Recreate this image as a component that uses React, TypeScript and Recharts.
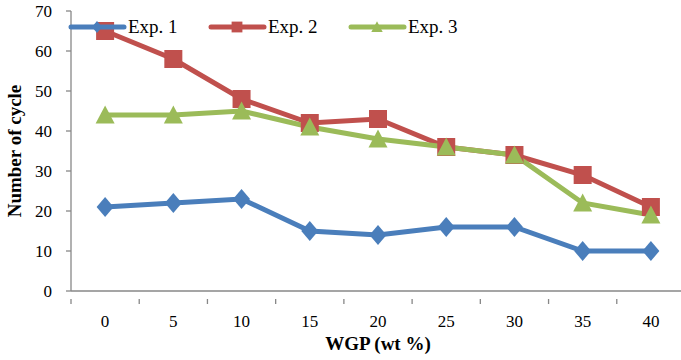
import React from 'react';
import { LineChart, Line, XAxis, YAxis } from 'recharts';

const categories = ['0', '5', '10', '15', '20', '25', '30', '35', '40'];
const exp1 = [21, 22, 23, 15, 14, 16, 16, 10, 10];
const exp2 = [65, 58, 48, 42, 43, 36, 34, 29, 21];
const exp3 = [44, 44, 45, 41, 38, 36, 34, 22, 19];
const yTicks = [0, 10, 20, 30, 40, 50, 60, 70];

const data = categories.map((c, i) => ({ wgp: c, exp1: exp1[i], exp2: exp2[i], exp3: exp3[i] }));

const BLUE = '#4a7ebb';
const RED = '#c0504d';
const GREEN = '#9bbb59';
const AXIS = '#878787';
const FONT = '"Liberation Serif", "Times New Roman", serif';

const CHART_W = 690;
const CHART_H = 360;
const MARGIN = { top: 11, right: 5, bottom: 0, left: 0 };
const YAXIS_W = 71;
const XAXIS_H = 69;
const BAND = (CHART_W - MARGIN.left - MARGIN.right - YAXIS_W) / categories.length;

const Diamond = (props: any) => {
  const { cx, cy, fill, s = 1 } = props;
  if (cx == null || cy == null) return null;
  const w = 8.5 * s, h = 10 * s;
  return <polygon points={`${cx},${cy - h} ${cx + w},${cy} ${cx},${cy + h} ${cx - w},${cy}`} fill={fill} />;
};
const Square = (props: any) => {
  const { cx, cy, fill, s = 1 } = props;
  if (cx == null || cy == null) return null;
  const h = 9 * s;
  return <rect x={cx - h} y={cy - h} width={2 * h} height={2 * h} fill={fill} />;
};
const Triangle = (props: any) => {
  const { cx, cy, fill, s = 1 } = props;
  if (cx == null || cy == null) return null;
  const w = 9.5 * s;
  return <polygon points={`${cx},${cy - 9.5 * s} ${cx + w},${cy + 8.5 * s} ${cx - w},${cy + 8.5 * s}`} fill={fill} />;
};

const series = [
  { key: 'exp1', name: 'Exp. 1', color: BLUE, Marker: Diamond },
  { key: 'exp2', name: 'Exp. 2', color: RED, Marker: Square },
  { key: 'exp3', name: 'Exp. 3', color: GREEN, Marker: Triangle },
];

const XTick = (props: any) => {
  const { x, y, payload, index } = props;
  const last = index === categories.length - 1;
  return (
    <g>
      <line x1={x - BAND / 2} y1={y} x2={x - BAND / 2} y2={y + 5} stroke={AXIS} strokeWidth={1.3} />
      {last && <line x1={x + BAND / 2} y1={y} x2={x + BAND / 2} y2={y + 5} stroke={AXIS} strokeWidth={1.3} />}
      <text x={x} y={y + 28} textAnchor="middle" fontFamily={FONT} fontSize={17} fill="#000">
        {payload.value}
      </text>
    </g>
  );
};

const LegendBox = () => (
  <div style={{ position: 'absolute', left: 68, top: 17, width: 500, height: 24 }}>
    {series.map((s, i) => (
      <div key={s.key} style={{ position: 'absolute', left: i * 140, top: 0, display: 'flex', alignItems: 'center' }}>
        <svg width={60} height={20}>
          <line x1={3} y1={10} x2={56} y2={10} stroke={s.color} strokeWidth={5} strokeLinecap="round" />
          <s.Marker cx={29} cy={10} fill={s.color} s={0.6} />
        </svg>
        <span style={{ fontFamily: FONT, fontSize: 19, color: '#000', lineHeight: '20px' }}>{s.name}</span>
      </div>
    ))}
  </div>
);

export default function App() {
  return (
    <div style={{ position: 'absolute', left: 0, top: 0, width: 681, height: 360, overflow: 'hidden', background: '#fff' }}>
      <LineChart width={CHART_W} height={CHART_H} data={data} margin={MARGIN}>
        <XAxis
          dataKey="wgp"
          height={XAXIS_H}
          stroke={AXIS}
          strokeWidth={1.3}
          tickLine={false}
          tick={<XTick />}
          interval={0}
          padding={{ left: BAND / 2, right: BAND / 2 }}
          label={(p: any) => {
            const vb = p.viewBox;
            return (
              <text x={vb.x + vb.width / 2} y={vb.y + 59} textAnchor="middle" fontFamily={FONT} fontSize={19} fontWeight="bold" fill="#000">
                WGP (wt %)
              </text>
            );
          }}
        />
        <YAxis
          width={YAXIS_W}
          domain={[0, 70]}
          ticks={yTicks}
          interval={0}
          stroke={AXIS}
          strokeWidth={1.3}
          tickSize={5}
          tickMargin={14}
          tick={{ fontFamily: FONT, fontSize: 17, fill: '#000' }}
          label={(p: any) => {
            const vb = p.viewBox;
            const cy = vb.y + vb.height / 2;
            return (
              <text x={14} y={cy} transform={`rotate(-90, 14, ${cy})`} textAnchor="middle" dominantBaseline="central" fontFamily={FONT} fontSize={19} fontWeight="bold" fill="#000">
                Number of cycle
              </text>
            );
          }}
        />
        {series.map((s) => (
          <Line
            key={s.key}
            dataKey={s.key}
            name={s.name}
            stroke={s.color}
            strokeWidth={5}
            isAnimationActive={false}
            dot={(p: any) => <s.Marker key={`${s.key}-${p.index}`} cx={p.cx} cy={p.cy} fill={s.color} />}
            activeDot={false}
          />
        ))}
      </LineChart>
      <LegendBox />
    </div>
  );
}
